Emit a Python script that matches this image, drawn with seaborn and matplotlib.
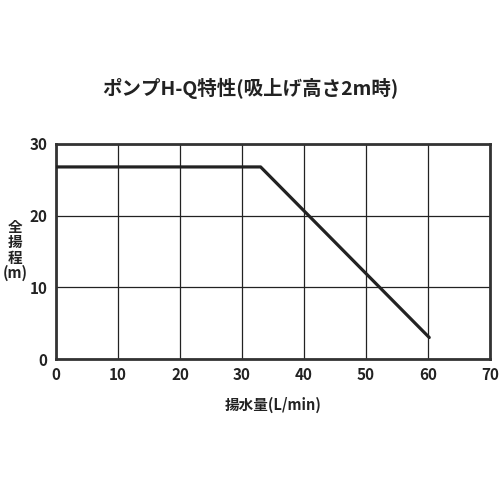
import matplotlib
matplotlib.use("Agg")
import matplotlib.pyplot as plt
import seaborn as sns
import pandas as pd

# ポンプH-Q特性 (吸上げ高さ2m時)
flow = [0, 33, 60.2]        # 揚水量 (L/min)
head = [26.8, 26.8, 3.0]    # 全揚程 (m)
x_ticks = [0, 10, 20, 30, 40, 50, 60, 70]
y_ticks = [0, 10, 20, 30]

sns.set_style("white")
plt.rcParams["font.family"] = ["Noto Sans CJK JP", "DejaVu Sans"]

df = pd.DataFrame({"flow": flow, "head": head})

fig = plt.figure(figsize=(5, 5), dpi=100)
ax = fig.add_axes([0.112, 0.282, 0.868, 0.430])

sns.lineplot(data=df, x="flow", y="head", ax=ax, color="#222222",
             linewidth=2.3, zorder=3)

ax.set_xlim(0, 70)
ax.set_ylim(0, 30)
ax.set_xticks(x_ticks)
ax.set_yticks(y_ticks)
ax.grid(True, color="#222222", linewidth=0.9)
for s in ax.spines.values():
    s.set_color("#333333")
    s.set_linewidth(2.0)
ax.tick_params(length=0, labelsize=11, pad=6, colors="#222222")
for lab in ax.get_xticklabels() + ax.get_yticklabels():
    lab.set_fontweight("bold")

ax.set_xlabel("")
ax.set_ylabel("")
fig.text(0.546, 0.19, "揚水量(L/min)", ha="center", va="center",
         fontsize=10.5, fontweight="bold", color="#222222")
fig.text(0.03, 0.50, "全\n揚\n程\n(m)", ha="center", va="center",
         fontsize=10.5, fontweight="bold", color="#222222", linespacing=0.95)
fig.text(0.5, 0.824, "ポンプH-Q特性(吸上げ高さ2m時)", ha="center", va="center",
         fontsize=14, fontweight="bold", color="#222222")

fig.savefig("out.png", dpi=100)
